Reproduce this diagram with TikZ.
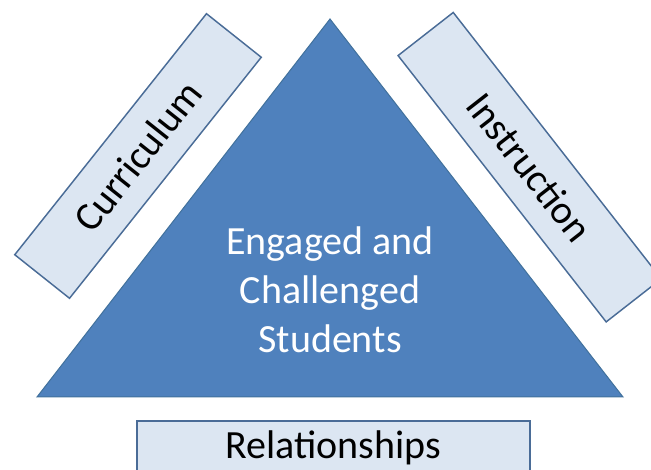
\documentclass[tikz,border=0pt]{standalone}
\usepackage{fontspec}
\setmainfont{Carlito}
\usepackage{tikz}
\usetikzlibrary{positioning}
\definecolor{trifill}{HTML}{4F81BD}
\definecolor{triline}{HTML}{41719C}
\definecolor{boxfill}{HTML}{DCE6F2}
\definecolor{boxline}{HTML}{4A6C97}

\begin{document}
\begin{tikzpicture}[x=0.75pt,y=0.75pt,
  font=\fontsize{30}{36.6}\selectfont,
  pillar/.style={rectangle, draw=boxline, line width=1.1pt, fill=boxfill, inner sep=0pt, minimum height=52.5pt},
  core/.style={align=center, text=white, inner sep=0pt}]
\useasboundingbox (0,0) rectangle (651,470);
\clip (0,0) rectangle (651,470);
% the triangle in the middle
\coordinate (tl) at (37,73);
\coordinate (tr) at (623,73);
\coordinate (tt) at (330,451);
\draw[triline, fill=trifill, line width=0.75pt] (tl) -- (tr) -- (tt) -- cycle;
\node[core] (students) at (330,180) {Engaged and\\Challenged\\Students};
% the three sides around it
\node[pillar, minimum width=231pt, rotate=51.5] (curr) at (138,314) {Curriculum};
\node[pillar, minimum width=253.5pt, rotate=-52] (instr) at (529.7,302.8) {Instruction};
\node[pillar, minimum width=294.75pt, minimum height=40.5pt, line width=1.5pt] (rel) at (333.5,22) {Relationships};
\end{tikzpicture}
\end{document}
